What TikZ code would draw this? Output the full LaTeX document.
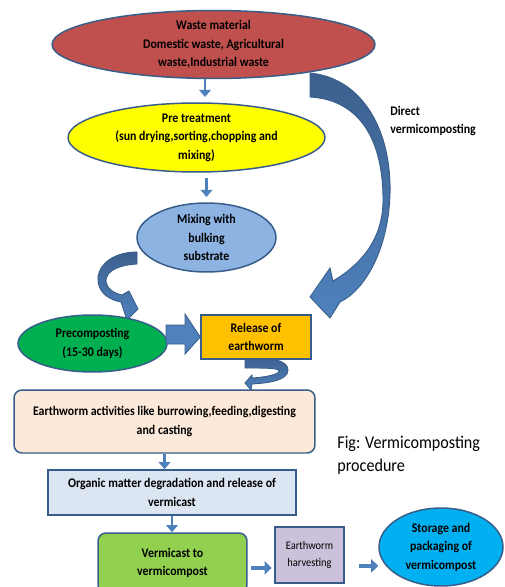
\documentclass[tikz,border=0pt]{standalone}
\usepackage{fontspec}
\setmainfont{Carlito}[FakeStretch=0.9]
\usetikzlibrary{shapes.geometric,arrows.meta,calc}

\definecolor{linedark}{HTML}{385D8A}
\definecolor{flowblue}{HTML}{4F81BD}
\definecolor{ribbontop}{HTML}{3C608E}
\definecolor{wastered}{HTML}{C0504D}
\definecolor{preyellow}{HTML}{FFFF00}
\definecolor{mixblue}{HTML}{8DB3E2}
\definecolor{precgreen}{HTML}{00B050}
\definecolor{wormorange}{HTML}{FFC000}
\definecolor{actpeach}{HTML}{FDE9D9}
\definecolor{orgblue}{HTML}{DCE6F2}
\definecolor{castgreen}{HTML}{92D050}
\definecolor{harvlilac}{HTML}{CCC1DA}
\definecolor{storecyan}{HTML}{00B0F0}

\begin{document}
\begin{tikzpicture}[x=0.02cm, y=-0.02cm,
    font=\fontsize{7.5}{10.5}\selectfont\bfseries,
    outline/.style={draw=linedark, line width=0.85pt},
    blob/.style={outline, ellipse, inner sep=0pt},
    box/.style={outline, rectangle, align=center, inner sep=1pt},
    flow/.style={draw=flowblue, line width=1.6pt, -{Triangle[length=4pt,width=6.5pt]}},
    fatflow/.style={draw=flowblue, line width=2.4pt, -{Triangle[length=4pt,width=7.5pt]}},
    ribbon/.style={draw=linedark, line width=0.5pt, top color=ribbontop, bottom color=flowblue}]
    \useasboundingbox (0,0) rectangle (504,587);

    % Curved arrows
    \path[ribbon] (310,73) .. controls (362,78) and (392,130) .. (390,195)
        .. controls (388,250) and (365,290) .. (340,302) -- (330,318) -- (310,297)
        -- (330,268) -- (333,281) .. controls (360,265) and (383,240) .. (383,200)
        .. controls (383,140) and (360,100) .. (310,97) -- cycle; % direct route
    \path[ribbon] (137,252) .. controls (110,252) and (96,268) .. (98,282)
        .. controls (100,294) and (110,300) .. (121,302) -- (127,320) -- (138,309)
        -- (129,291) -- (122,295) .. controls (113,293) and (106,288) .. (106,280)
        .. controls (107,270) and (120,265) .. (137,264) -- cycle;
    \path[ribbon] (245,358) .. controls (270,357) and (288,360) .. (288,370)
        .. controls (288,380) and (270,383) .. (252,384) -- (251,390) -- (245,383)
        -- (252,375) -- (252,378) .. controls (268,377) and (279,374) .. (279,371)
        .. controls (279,368) and (265,368) .. (245,368) -- cycle;

    % Stages
    \node[blob, fill=wastered, minimum width=6.46cm, minimum height=1.36cm,
        label={[align=center]center:Waste material\\Domestic waste, Agricultural\\waste,Industrial waste}] (waste) at (213.5,44.5) {};
    \node[blob, fill=preyellow, minimum width=5.14cm, minimum height=1.38cm,
        label={[align=center]center:Pre treatment\\(sun drying,sorting,chopping and\\mixing)}] (pretreat) at (196.5,137.5) {};
    \node[blob, fill=mixblue, minimum width=2.78cm, minimum height=1.38cm,
        label={[align=center]center:Mixing with\\bulking\\substrate}] (mix) at (206.5,237.5) {};
    \node[blob, fill=precgreen, minimum width=2.98cm, minimum height=1.14cm,
        label={[align=center]center:Precomposting\\(15-30 days)}] (precomp) at (92.5,343.5) {};
    \node[box, fill=wormorange, minimum width=2.2cm, minimum height=0.88cm] (release) at (256,337) {Release of\\earthworm};
    \node[box, fill=actpeach, rounded corners=4.5pt, minimum width=6.02cm, minimum height=1.26cm] (acts) at (164.5,421.5)
        {Earthworm activities like burrowing,feeding,digesting\\and casting};
    \node[box, fill=orgblue, minimum width=4.96cm, minimum height=0.9cm] (organic) at (172,492.5)
        {Organic matter degradation and release of\\vermicast};
    \node[box, fill=castgreen, rounded corners=4.5pt, minimum width=2.98cm, minimum height=1.2cm] (vcast) at (172.5,563)
        {Vermicast to\\vermicompost};
    \node[box, fill=harvlilac, minimum width=1.38cm, minimum height=1.12cm,
        font=\fontsize{6.6}{9.6}\selectfont\mdseries] (harvest) at (309.5,555) {Earthworm\\harvesting};
    \node[blob, fill=storecyan, minimum width=2.48cm, minimum height=1.56cm,
        label={[align=center]center:Storage and\\packaging of\\vermicompost}] (store) at (441,547) {};

    % Texts
    \node[anchor=west, align=left, inner sep=0pt] (direct) at (390,121) {Direct\\vermicomposting};
    \node[anchor=west, align=left, inner sep=0pt, font=\fontsize{10.2}{13}\selectfont\mdseries] (fig) at (337,455)
        {Fig: Vermicomposting\\procedure};

    % Block arrow into release
    \filldraw[draw=linedark, fill=flowblue, line width=0.5pt] (166,325) -- (185,325) -- (185,314)
        -- (release.west) -- (185,354) -- (185,344) -- (166,344) -- cycle;

    % Straight arrows
    \coordinate (m1) at ($(waste.south)!0.5!(pretreat.north)$);
    \draw[flow, shorten >=3pt] (m1 |- waste.south) -- (m1 |- pretreat.north);
    \draw[flow, shorten <=3pt, shorten >=3pt] (pretreat.south -| mix.north) -- (mix.north);
    \draw[flow] (acts.south) -- (acts.south |- organic.north);
    \draw[flow] (organic.south) -- (organic.south |- vcast.north);
    \draw[fatflow, shorten <=2pt, shorten >=1.5pt] ([yshift=-2.8pt]vcast.east) -- ([yshift=-2.8pt]vcast.east -| harvest.west);
    \draw[fatflow, shorten <=8pt] ([yshift=-6.2pt]harvest.east) -- ([yshift=-6.2pt]harvest.east -| store.west);
\end{tikzpicture}
\end{document}
